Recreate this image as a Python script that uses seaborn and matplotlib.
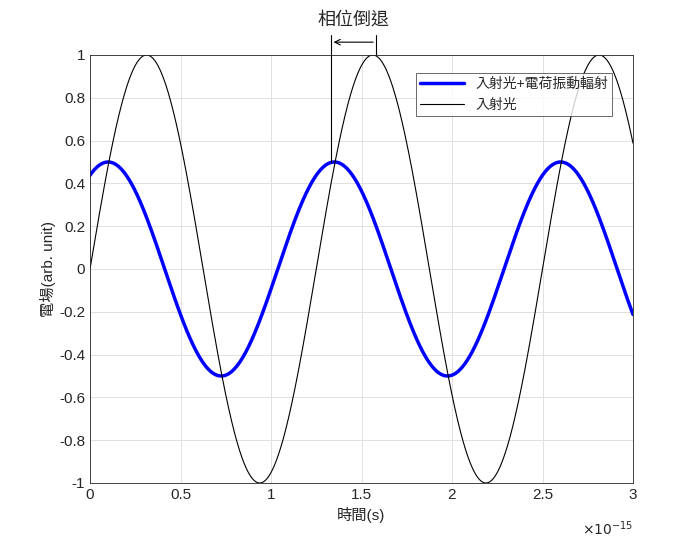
import numpy as np
import matplotlib
matplotlib.use("Agg")
import matplotlib.pyplot as plt
import seaborn as sns

# values
period = 1.25e-15          # s
amp_incident = 1.0
amp_total = 0.5
phase_total = 1.068        # rad, blue peak near t=0.1e-15
t_max = 3e-15
shift_left = 1.33e-15
shift_right = 1.58e-15
labels = ["入射光+電荷振動輻射", "入射光"]
yticks = [-1, -0.8, -0.6, -0.4, -0.2, 0, 0.2, 0.4, 0.6, 0.8, 1]
xticks = [0, 0.5, 1, 1.5, 2, 2.5, 3]

t = np.linspace(0, t_max, 1500)
incident = amp_incident * np.sin(2 * np.pi * t / period)
total = amp_total * np.sin(2 * np.pi * t / period + phase_total)

sns.set_style("whitegrid")
plt.rcParams["font.family"] = ["Liberation Sans", "Noto Sans CJK TC", "DejaVu Sans"]

fig = plt.figure(figsize=(7, 5.41), dpi=100)
ax = fig.add_axes([90/700, 1 - 483/541, 543/700, 428/541])

sns.lineplot(x=t * 1e15, y=total, ax=ax, color="#0000ff", linewidth=2.5, label=labels[0])
sns.lineplot(x=t * 1e15, y=incident, ax=ax, color="black", linewidth=0.8, label=labels[1])

ax.set_xlim(0, 3)
ax.set_ylim(-1, 1)
ax.set_xticks(xticks)
ax.set_xticklabels([f"{v:g}" for v in xticks])
ax.set_yticks(yticks)
ax.set_yticklabels([f"{v:g}" for v in yticks])
ax.grid(True, color="#e0e0e0", linewidth=0.7)
for s in ax.spines.values():
    s.set_color("#262626")
    s.set_linewidth(0.6)
ax.tick_params(labelsize=11, colors="#262626", direction="in", length=3)
ax.set_xlabel("時間(s)", fontsize=11, color="#262626")
ax.set_ylabel("電場(arb. unit)", fontsize=11, color="#262626", labelpad=2)
ax.text(1.0, -0.085, r"$\times10^{-15}$", transform=ax.transAxes, ha="right", va="top", fontsize=10, color="#262626")

# phase-shift annotation
xl, xr = shift_left * 1e15, shift_right * 1e15
ax.plot([xl, xl], [0.5, 1.093], color="black", linewidth=0.8, clip_on=False)
ax.plot([xr, xr], [1.0, 1.093], color="black", linewidth=0.8, clip_on=False)
ax.annotate("", xy=(xl, 1.06), xytext=(xr, 1.06), annotation_clip=False,
            arrowprops=dict(arrowstyle="->", color="black", linewidth=0.8))
ax.text((xl + xr) / 2, 1.165, "相位倒退", ha="center", va="center", fontsize=13, color="#262626")

leg = ax.legend(loc="upper right", bbox_to_anchor=(0.975, 0.975), fontsize=10,
                frameon=True, fancybox=False, borderpad=0.3, handlelength=3.2)
leg.get_frame().set_edgecolor("#262626")
leg.get_frame().set_linewidth(0.6)

fig.savefig("out.png", dpi=100)
